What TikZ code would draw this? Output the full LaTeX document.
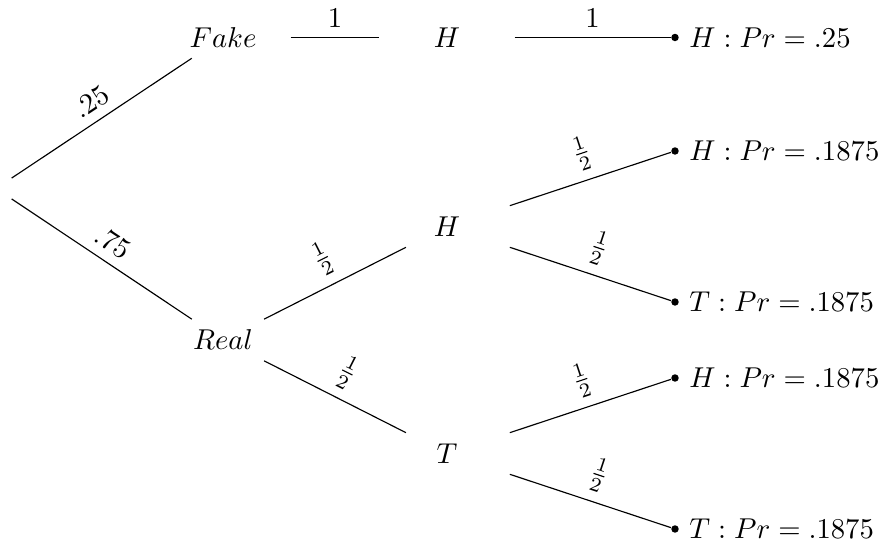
\documentclass[tikz,border=0pt]{standalone}
\begin{document}
\begin{tikzpicture}[x=0.3484pt, y=-0.3484pt,
  lvl/.style={rectangle, minimum width=46.7pt, minimum height=14.1pt, inner sep=0pt},
  rootnode/.style={rectangle, minimum width=10.5pt, minimum height=8pt, inner sep=0pt},
  leaf/.style={circle, fill=black, inner sep=0pt, minimum size=2.6pt},
  prob/.style={above, sloped, midway},
  flat/.style={above, midway},
  branch/.style={draw=black, line width=0.4pt}]
\useasboundingbox (0,0) rectangle (884,544);
\node[rootnode] (r) at (-4,188.5) {};
\node[lvl] (f) at (223,37.5) {$Fake$};
\node[lvl] (re) at (223,340) {$Real$};
\node[lvl] (h0) at (447,37.5) {$H$};
\node[lvl] (h1) at (447,226.5) {$H$};
\node[lvl] (t1) at (447,453.5) {$T$};
\node[leaf, label={right:$H : Pr = .25$}] (e0) at (675,37.5) {};
\node[leaf, label={right:$H : Pr = .1875$}] (e1) at (675,151) {};
\node[leaf, label={right:$T : Pr = .1875$}] (e2) at (675,302) {};
\node[leaf, label={right:$H : Pr = .1875$}] (e3) at (675,378) {};
\node[leaf, label={right:$T : Pr = .1875$}] (e4) at (675,529) {};
\path[branch] (r) -- node[prob] {$.25$} (f);
\path[branch] (r) -- node[prob] {$.75$} (re);
\path[branch] (f) -- node[flat] {$1$} (h0);
\path[branch] (h0) -- node[flat] {$1$} (e0);
\path[branch] (re) -- node[prob] {$\frac{1}{2}$} (h1);
\path[branch] (re) -- node[prob] {$\frac{1}{2}$} (t1);
\path[branch] (h1) -- node[prob] {$\frac{1}{2}$} (e1);
\path[branch] (h1) -- node[prob] {$\frac{1}{2}$} (e2);
\path[branch] (t1) -- node[prob] {$\frac{1}{2}$} (e3);
\path[branch] (t1) -- node[prob] {$\frac{1}{2}$} (e4);
\end{tikzpicture}
\end{document}
